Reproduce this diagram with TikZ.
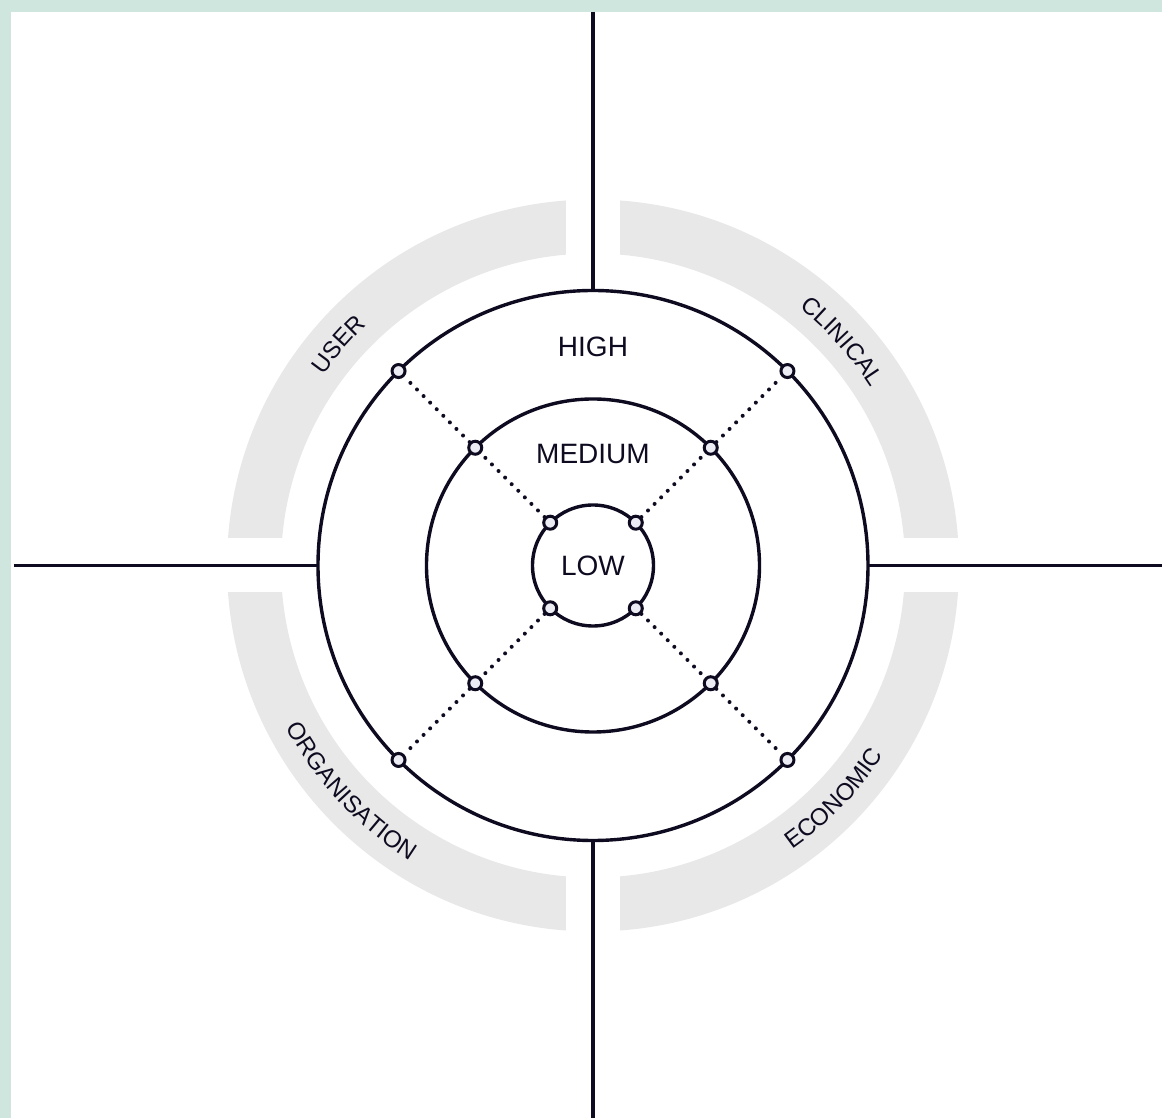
\documentclass[tikz,border=0pt]{standalone}
\usepackage{fontspec}
\setmainfont{Liberation Sans}
\usetikzlibrary{decorations.text}
\definecolor{ink}{HTML}{0E0B20}
\definecolor{band}{HTML}{E8E8E8}
\definecolor{frame}{HTML}{CFE6DF}
\definecolor{dotfill}{HTML}{ECECF4}
\tikzset{
  ring/.style   = {draw=ink, circle, line width=3.4pt, inner sep=0pt, outer sep=0pt},
  level/.style  = {font=\fontsize{28}{28}\selectfont, text=ink, inner sep=0pt},
  marker/.style = {draw=ink, circle, fill=dotfill, line width=3pt, minimum size=13pt, inner sep=0pt},
  axis/.style   = {draw=ink, line width=3.2pt},
  link/.style   = {draw=ink, line width=4pt, line cap=round, dash pattern=on 0pt off 9.3pt},
  area/.style   = {decorate, decoration={text along path, text align=center, text color=ink,
                   text={|\fontsize{24}{24}\selectfont|#1}}}
}

\begin{document}
\begin{tikzpicture}[x=1pt,y=1pt]
  \useasboundingbox (-593,-552.5) rectangle (569,565.5);
  \fill[frame] (-593,-552.5) rectangle (-582,565.5);
  \fill[frame] (-593,553.5) rectangle (569,565.5);
  \fill[band, even odd rule] (0,0) circle[radius=366] (0,0) circle[radius=312];
  \fill[white] (-27,-370) rectangle (27,370);
  \fill[white] (-370,-27) rectangle (370,27);

  \node[ring, minimum size=550pt] (high) at (0,0) {};
  \node[ring, minimum size=333pt] (medium) at (0,0) {};
  \node[ring, minimum size=121pt] (low) at (0,0) {};

  \coordinate (top) at (0,553.5);
  \coordinate (bottom) at (0,-552.5);
  \coordinate (left) at (-579,0);
  \coordinate (right) at (569,0);
  \draw[axis] (top) -- (high.north);
  \draw[axis] (high.south) -- (bottom);
  \draw[axis] (left) -- (high.west);
  \draw[axis] (high.east) -- (right);

  \foreach \a in {45,135,225,315} {
    \node[marker] (low-\a) at (low.\a) {};
    \node[marker] (medium-\a) at (medium.\a) {};
    \node[marker] (high-\a) at (high.\a) {};
    \draw[link] (low-\a) -- (medium-\a);
    \draw[link] (medium-\a) -- (high-\a);
  }

  \node[level] (highlabel) at (0,218.5) {HIGH};
  \node[level] (mediumlabel) at (0,111.5) {MEDIUM};
  \node[level] (lowlabel) at (0,-0.5) {LOW};

  \path[area=USER] (179:330) arc[start angle=179, end angle=99, radius=330];
  \path[area=CLINICAL] (82:330) arc[start angle=82, end angle=2, radius=330];
  \path[area=ORGANISATION] (183:347) arc[start angle=183, end angle=263, radius=347];
  \path[area=ECONOMIC] (276:347) arc[start angle=276, end angle=356, radius=347];
\end{tikzpicture}
\end{document}
